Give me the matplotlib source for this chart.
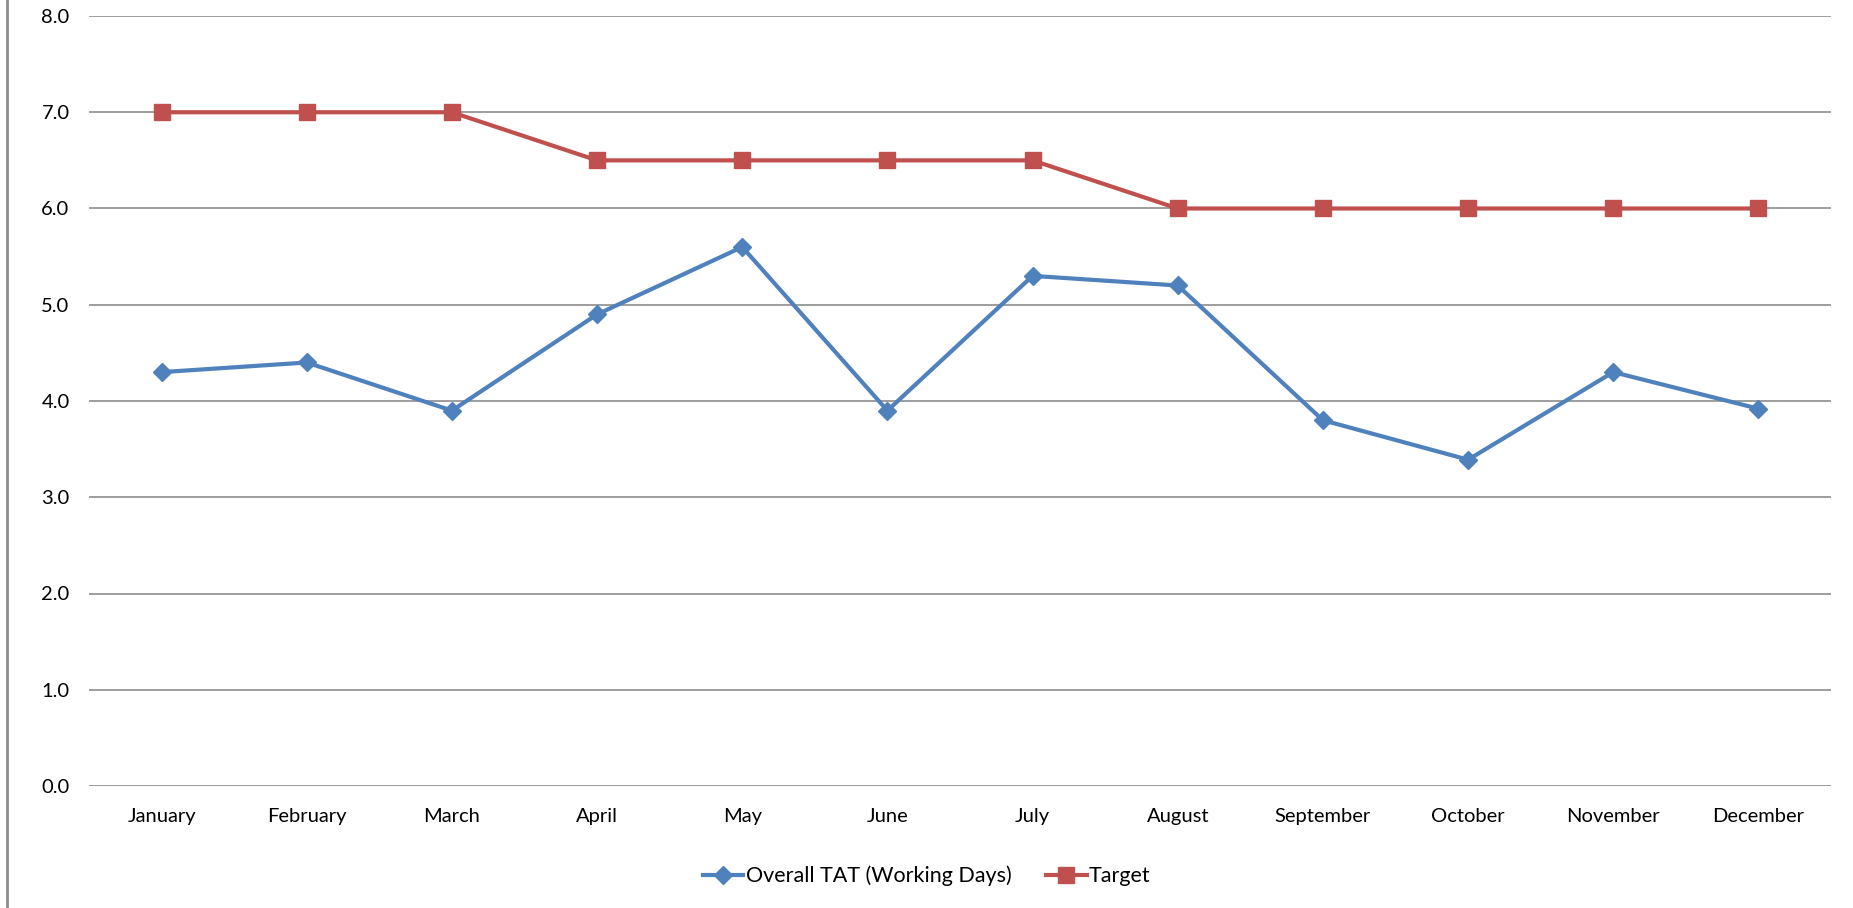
import matplotlib
matplotlib.use("Agg")
import matplotlib.pyplot as plt
from matplotlib.lines import Line2D

months = ["January", "February", "March", "April", "May", "June", "July",
          "August", "September", "October", "November", "December"]
tat = [4.3, 4.4, 3.9, 4.9, 5.6, 3.9, 5.3, 5.2, 3.8, 3.39, 4.3, 3.92]
target = [7.0, 7.0, 7.0, 6.5, 6.5, 6.5, 6.5, 6.0, 6.0, 6.0, 6.0, 6.0]
yticks = [0, 1, 2, 3, 4, 5, 6, 7, 8]

plt.rcParams['font.family'] = ['Lato', 'DejaVu Sans']

fig = plt.figure(figsize=(18.53, 9.08), dpi=100)
ax = fig.add_axes([89/1853, 1-786/908, (1831-89)/1853, (786-16)/908])

x = list(range(len(months)))
ax.plot(x, tat, color="#4F81BD", lw=3, marker="D", ms=9.5,
        label="Overall TAT (Working Days)", zorder=3)
ax.plot(x, target, color="#C0504D", lw=3, marker="s", ms=12,
        label="Target", zorder=3)

ax.set_xlim(-0.5, len(months) - 0.5)
ax.set_ylim(0, 8)
ax.set_yticks(yticks)
ax.set_yticklabels([f"{v:.1f}" for v in yticks])
ax.set_xticks(x)
ax.set_xticklabels(months)
ax.tick_params(axis="both", length=0, labelsize=14.5, colors="#000000")
ax.tick_params(axis="y", pad=14)
ax.tick_params(axis="x", pad=16)
ax.grid(axis="y", color="#8C8C8C", lw=1.2)
ax.set_axisbelow(True)
for s in ax.spines.values():
    s.set_visible(False)

fig.add_artist(Line2D([7/1853, 7/1853], [0, 1], color="#8C8C8C", lw=2,
                      transform=fig.transFigure))

fig.legend(loc="center", bbox_to_anchor=(0.5, 1-876/908), ncol=2,
           frameon=False, fontsize=15.5, handlelength=1.9, columnspacing=1.6,
           handletextpad=0.1)

fig.savefig("out.png", dpi=100)
